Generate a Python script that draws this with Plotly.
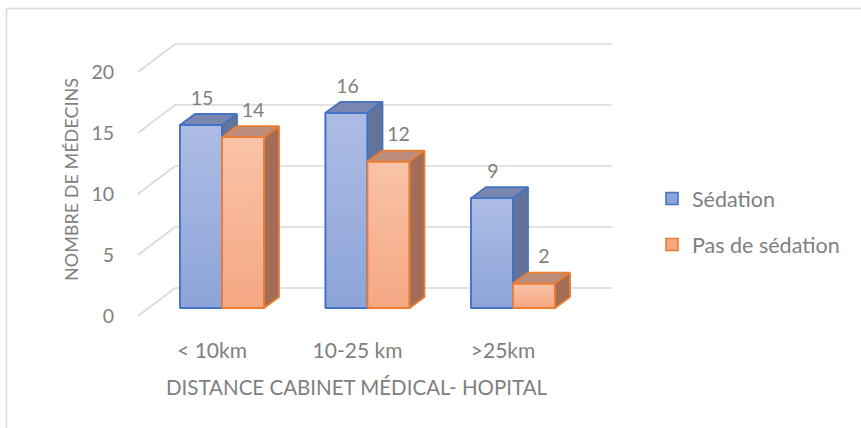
import plotly.graph_objects as go

# ---------------- data ----------------
categories = ["< 10km", "10-25 km", ">25km"]
series_names = ["Sédation", "Pas de sédation"]
sedation = [15, 16, 9]
pas_de_sedation = [14, 12, 2]
y_ticks = [0, 5, 10, 15, 20]
x_title = "DISTANCE CABINET MÉDICAL- HOPITAL"
y_title = "NOMBRE DE MÉDECINS"

# ---------------- geometry / style ----------------
W, H = 861, 428
L, R, T, B = 130, 640, 30, 330          # plot area in px
PX_Y = 12.2                              # px per value unit
BASE_PX = 308                            # px of value 0 at bar plane
CAT0_PX, CAT_STEP = 222, 145.5           # px of first category center, spacing
BAR_PX = 42                              # bar width in px
DEPTH_DX, DEPTH_DY = 15, 11              # 3D depth offset of bars in px
WALL_DX, WALL_DY = 37, 28                # wall depth (front -> back) in px
FRONT_DY_PX = 8                          # front wall is 8px lower than bar plane
FONT = "Lato"
TXT = "#808080"
GRID = "#D9D9D9"
FS = 19.5

ylo = (BASE_PX - B) / PX_Y
yhi = (BASE_PX - T) / PX_Y
xlo = (L - CAT0_PX) / CAT_STEP
xhi = (R - CAT0_PX) / CAT_STEP
bw = BAR_PX / CAT_STEP
ddx = DEPTH_DX / CAT_STEP
ddy = DEPTH_DY / PX_Y
front_off = FRONT_DY_PX / PX_Y
back_off = (WALL_DY - FRONT_DY_PX) / PX_Y
wall_front_x = (138 - CAT0_PX) / CAT_STEP
wall_back_x = wall_front_x + WALL_DX / CAT_STEP
wall_right_x = (612 - CAT0_PX) / CAT_STEP

def px_to_paper(px, py):
    return (px - L) / (R - L), (B - py) / (B - T)

styles = [
    dict(top_col="#ADBCE4", bot_col="#8DA4DA", edge="#4472C4", topf="#7887AF", side="#637498",
         offset=-bw, lab_dx=1),
    dict(top_col="#F9C3A9", bot_col="#F5A783", edge="#ED7D31", topf="#BB8D7A", side="#A26E57",
         offset=0.0, lab_dx=10),
]
values = [sedation, pas_de_sedation]

fig = go.Figure()

# back wall gridlines (front slant + back horizontal)
gx, gy = [], []
for v in y_ticks:
    gx += [wall_front_x, wall_back_x, wall_right_x, None]
    gy += [v - front_off, v + back_off, v + back_off, None]
fig.add_trace(go.Scatter(x=gx, y=gy, mode="lines", line=dict(color=GRID, width=1.6),
                         hoverinfo="skip", showlegend=False))

# legend-carrying bars (covered by 3D faces below)
for s, name, vals in zip(styles, series_names, values):
    fig.add_trace(go.Bar(
        x=list(range(len(categories))), y=vals, name=name, width=bw, offset=s["offset"],
        marker=dict(color=s["bot_col"], line=dict(color=s["edge"], width=1.6)),
        legendgroup=name, hoverinfo="skip"))

# 3D faces, drawn category by category so depth order is right
for i in range(len(categories)):
    for s, vals in zip(styles, values):
        v = vals[i]
        x0 = i + s["offset"]
        x1 = x0 + bw
        edge = dict(color=s["edge"], width=1.8)
        # front face with gradient
        fig.add_trace(go.Scatter(
            x=[x0, x1, x1, x0, x0], y=[0, 0, v, v, 0], mode="lines", fill="toself",
            fillgradient=dict(type="vertical", colorscale=[[0, s["bot_col"]], [1, s["top_col"]]]),
            line=edge, hoverinfo="skip", showlegend=False))
        # top face
        fig.add_trace(go.Scatter(
            x=[x0, x1, x1 + ddx, x0 + ddx, x0], y=[v, v, v + ddy, v + ddy, v], mode="lines",
            fill="toself", fillcolor=s["topf"], line=edge, hoverinfo="skip", showlegend=False))
        # side face
        fig.add_trace(go.Scatter(
            x=[x1, x1 + ddx, x1 + ddx, x1, x1], y=[0, ddy, v + ddy, v, 0], mode="lines",
            fill="toself", fillcolor=s["side"], line=edge, hoverinfo="skip", showlegend=False))

# data labels
for s, vals in zip(styles, values):
    fig.add_trace(go.Scatter(
        x=[i + s["offset"] + bw / 2 + s["lab_dx"] / CAT_STEP for i in range(len(vals))],
        y=[v + 25 / PX_Y for v in vals], mode="text", text=[str(v) for v in vals],
        textposition="middle center", textfont=dict(family=FONT, size=FS, color=TXT),
        hoverinfo="skip", showlegend=False, cliponaxis=False))

# dummy trace for the tick axis
fig.add_trace(go.Scatter(x=[], y=[], yaxis="y2", showlegend=False, hoverinfo="skip"))

# axis titles and chart border
tx, ty = px_to_paper(357, 387)
yx, yy = px_to_paper(71, 180)
bx0, by0 = px_to_paper(6.5, 8.5)
bx1, by1 = px_to_paper(900, 470)

fig.update_layout(
    width=W, height=H,
    margin=dict(l=L, r=W - R, t=T, b=H - B, pad=0),
    paper_bgcolor="white", plot_bgcolor="white",
    font=dict(family=FONT, size=FS, color=TXT),
    barmode="overlay",
    xaxis=dict(range=[xlo, xhi], showgrid=False, zeroline=False, showline=False,
               tickvals=[i - 10 / CAT_STEP for i in range(len(categories))],
               ticktext=categories, ticks="", ticklabelstandoff=6,
               tickfont=dict(family=FONT, size=21, color=TXT), fixedrange=True),
    yaxis=dict(range=[ylo, yhi], showgrid=False, zeroline=False, showline=False,
               showticklabels=False, ticks="", fixedrange=True),
    yaxis2=dict(range=[ylo + front_off, yhi + front_off], overlaying="y", side="left",
                showgrid=False, zeroline=False, showline=False, tickvals=y_ticks,
                ticks="", ticklabelstandoff=15,
                tickfont=dict(family=FONT, size=FS, color=TXT), fixedrange=True),
    legend=dict(x=px_to_paper(652, 0)[0], y=px_to_paper(0, 178)[1], xanchor="left", yanchor="top",
                font=dict(family=FONT, size=21.5, color=TXT), bgcolor="rgba(0,0,0,0)",
                tracegroupgap=15, traceorder="grouped"),
    annotations=[
        dict(text=x_title, x=tx, y=ty, xref="paper", yref="paper", showarrow=False,
             font=dict(family=FONT, size=20.5, color=TXT), xanchor="center", yanchor="middle"),
        dict(text=y_title, x=yx, y=yy, xref="paper", yref="paper", showarrow=False,
             textangle=-90, font=dict(family=FONT, size=18, color=TXT),
             xanchor="center", yanchor="middle"),
    ],
    shapes=[dict(type="rect", xref="paper", yref="paper", x0=bx0, y0=by0, x1=bx1, y1=by1,
                 line=dict(color="#D9D9D9", width=1.5), fillcolor="rgba(0,0,0,0)", layer="below")],
)

fig.write_html("out.html", config={"displayModeBar": False},
               post_script="document.body.style.margin='0';document.body.style.overflow='hidden';")
